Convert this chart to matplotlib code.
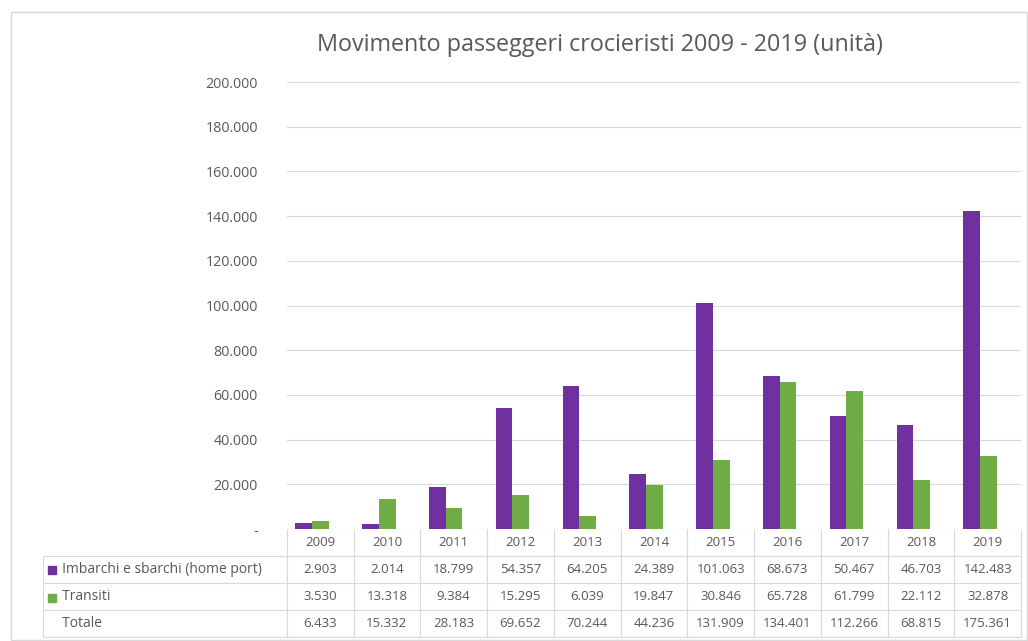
import matplotlib
matplotlib.use("Agg")
import matplotlib.pyplot as plt
from matplotlib.patches import Rectangle
import numpy as np

plt.rcParams['font.family'] = ['Open Sans', 'DejaVu Sans']

years = ['2009', '2010', '2011', '2012', '2013', '2014', '2015', '2016', '2017', '2018', '2019']
imbarchi = [2903, 2014, 18799, 54357, 64205, 24389, 101063, 68673, 50467, 46703, 142483]
transiti = [3530, 13318, 9384, 15295, 6039, 19847, 30846, 65728, 61799, 22112, 32878]
totale = [6433, 15332, 28183, 69652, 70244, 44236, 131909, 134401, 112266, 68815, 175361]
series_names = ['Imbarchi e sbarchi (home port)', 'Transiti', 'Totale']
title = 'Movimento passeggeri crocieristi 2009 - 2019 (unità)'
yticks = [0, 20000, 40000, 60000, 80000, 100000, 120000, 140000, 160000, 180000, 200000]

PURPLE = '#7030A0'
GREEN = '#70AD47'
TXT = '#595959'
GRID = '#D9D9D9'

W, H = 1028, 641
fig = plt.figure(figsize=(W / 100, H / 100), dpi=100)

def fx(px):
    return px / W

def fy(py):
    return 1 - py / H

# outer border
fig.patches.append(Rectangle((fx(11), fy(640)), fx(1027) - fx(11), fy(12) - fy(640),
                             transform=fig.transFigure, fill=False, edgecolor='#D9D9D9', lw=1))

# main axes
ax_l, ax_r, ax_t, ax_b = 287, 1021, 82, 529
ax = fig.add_axes([fx(ax_l), fy(ax_b), fx(ax_r - ax_l), fy(ax_t) - fy(ax_b)])
colw = 66.8
first_center = 312
x = np.arange(len(years))
bw = 0.25
ax.bar(x - bw / 2, imbarchi, bw, color=PURPLE, zorder=3)
ax.bar(x + bw / 2, transiti, bw, color=GREEN, zorder=3)
ax.set_xlim((ax_l - first_center) / colw, (ax_r - first_center) / colw)
ax.set_ylim(0, 200000)
ax.set_yticks(yticks)
ax.set_yticklabels(['-' if v == 0 else f'{v:,}'.replace(',', '.') for v in yticks])
ax.tick_params(axis='y', length=0, pad=21, labelsize=10.3, labelcolor=TXT)
ax.set_xticks([])
ax.grid(axis='y', color=GRID, lw=0.8, zorder=0)
for s in ax.spines.values():
    s.set_visible(False)

fig.text(fx(600), fy(45), title, ha='center', va='center', fontsize=16.8, color=TXT)

# data table
tax = fig.add_axes([fx(43), fy(637), fx(1021 - 43), fy(529) - fy(637)])
tax.axis('off')
fmt = lambda v: f'{v:,}'.replace(',', '.')
cell_text = [[''] + years]
for name, vals in zip(series_names, [imbarchi, transiti, totale]):
    cell_text.append(['     ' + name] + [fmt(v) for v in vals])
tbl = tax.table(cellText=cell_text, bbox=[0, 0, 1, 1], cellLoc='center')
tbl.auto_set_font_size(False)
label_w = 287 - 43
for (r, c), cell in tbl.get_celld().items():
    cell.set_edgecolor(GRID)
    cell.set_linewidth(0.8)
    cell.get_text().set_color(TXT)
    cell.get_text().set_fontsize(9.5)
    cell.set_width(label_w if c == 0 else colw)
    if r == 0:
        cell.visible_edges = '' if c == 0 else 'BLR'
    if c == 0 and r > 0:
        cell.get_text().set_ha('left')
        cell.get_text().set_fontsize(10)
        cell._loc = 'left'
        cell.PAD = 0.003

# legend keys in table
row_centers = [570, 598]
for yy, col in zip(row_centers, [PURPLE, GREEN]):
    fig.patches.append(Rectangle((fx(48), fy(yy + 4)), fx(8), fy(yy - 4) - fy(yy + 4),
                                 transform=fig.transFigure, color=col))

fig.savefig('out.png', dpi=100, facecolor='white')
